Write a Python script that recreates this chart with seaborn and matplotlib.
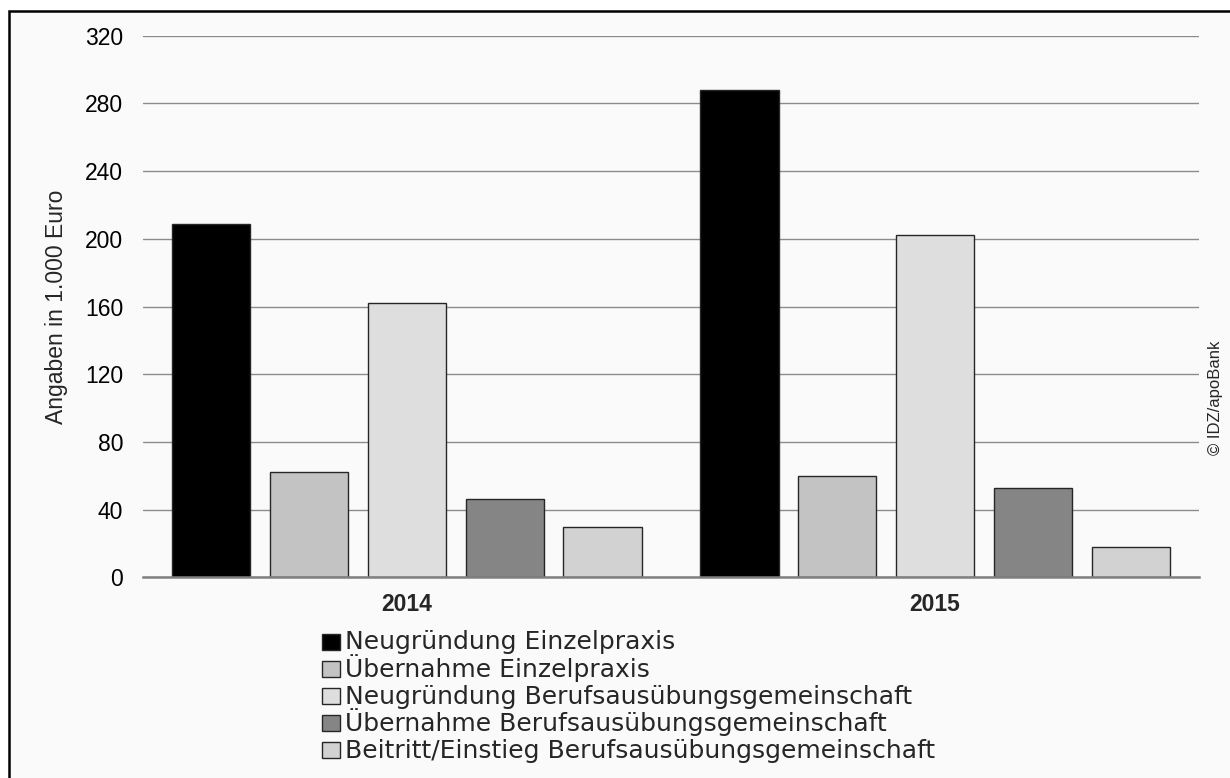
import pandas as pd
import seaborn as sns
import matplotlib
matplotlib.use("Agg")
import matplotlib.pyplot as plt
from matplotlib.patches import Rectangle

# data (in 1.000 Euro)
years = ['2014', '2015']
categories = ['Neugründung Einzelpraxis',
              'Übernahme Einzelpraxis',
              'Neugründung Berufsausübungsgemeinschaft',
              'Übernahme Berufsausübungsgemeinschaft',
              'Beitritt/Einstieg Berufsausübungsgemeinschaft']
values_2014 = [209, 62, 162, 46, 30]
values_2015 = [288, 60, 202, 53, 18]
yticks = [0, 40, 80, 120, 160, 200, 240, 280, 320]

bar_colors = ['#000000', '#c3c3c3', '#dedede', '#858585', '#d2d2d2']

rows = []
for year, vals in zip(years, [values_2014, values_2015]):
    for cat, v in zip(categories, vals):
        rows.append({'Jahr': year, 'Kategorie': cat, 'Wert': v})
df = pd.DataFrame(rows)

W, H = 1230, 778  # figure size in pixels

sns.set_style("white")
plt.rcParams['font.family'] = ['Liberation Sans', 'DejaVu Sans']

fig = plt.figure(figsize=(12.3, 7.78), dpi=100, facecolor='white')
# framed background like the source graphic (only top and left edge visible)
frame_top = 1 - 11 / H
fig.add_artist(Rectangle((9 / W, -0.05), 1.1, frame_top + 0.05,
                         transform=fig.transFigure, facecolor='#fafafa',
                         edgecolor='black', linewidth=1.8, zorder=-5))

ax = fig.add_axes([0.116, 0.258, 0.859, 0.696])
ax.set_facecolor('none')

sns.barplot(data=df, x='Jahr', y='Wert', hue='Kategorie', hue_order=categories,
            palette=bar_colors, saturation=1, width=0.926, gap=0.2,
            edgecolor='#262626', linewidth=1.0, legend=False, ax=ax)

ax.set_xlim(-0.5, 1.5)
ax.set_ylim(0, 320)
ax.set_yticks(yticks)
ax.yaxis.grid(True, color='#8c8c8c', linewidth=1.0)
ax.set_axisbelow(True)
for s in ['left', 'right', 'top']:
    ax.spines[s].set_visible(False)
ax.spines['bottom'].set_color('#808080')
ax.spines['bottom'].set_linewidth(1.8)

ax.tick_params(axis='y', length=0, pad=14, labelsize=16.5, labelcolor='black')
ax.tick_params(axis='x', length=0, pad=11, labelsize=16.5)
for lab in ax.get_xticklabels():
    lab.set_fontweight('bold')
ax.set_xlabel('')
ax.set_ylabel('Angaben in 1.000 Euro', fontsize=16.5, labelpad=12)

fig.text(0.988, 0.489, '© IDZ/apoBank', rotation=90, fontsize=12,
         ha='center', va='center')

# legend below the plot, one row per category with even row spacing
first_baseline = 649.5
row_step = 27.2
for i, (cat, col) in enumerate(zip(categories, bar_colors)):
    base = first_baseline + i * row_step
    fig.add_artist(Rectangle((322 / W, 1 - base / H), 18 / W, 16 / H,
                             transform=fig.transFigure, facecolor=col,
                             edgecolor='#262626', linewidth=1.0))
    fig.text(345 / W, 1 - base / H, cat, fontsize=18, va='baseline',
             ha='left', family=['DejaVu Sans'])

plt.savefig('out.png', dpi=100, facecolor=fig.get_facecolor())
